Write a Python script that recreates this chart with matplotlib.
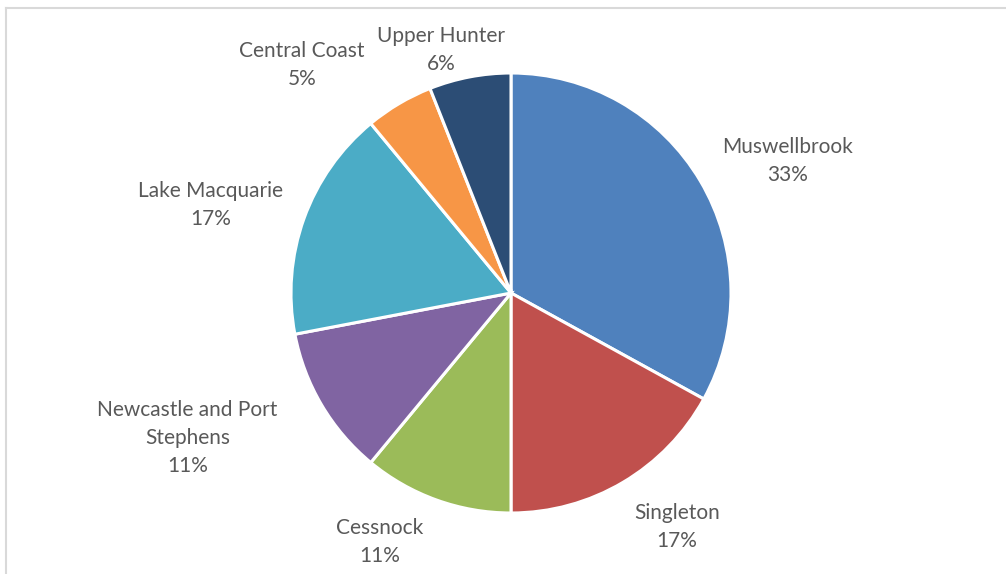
import matplotlib.pyplot as plt
from matplotlib.lines import Line2D

regions = ['Muswellbrook', 'Singleton', 'Cessnock', 'Newcastle and Port\nStephens',
           'Lake Macquarie', 'Central Coast', 'Upper Hunter']
shares = [33, 17, 11, 11, 17, 5, 6]
colors = ['#4F81BD', '#C0504D', '#9BBB59', '#8064A2', '#4BACC6', '#F79646', '#2C4D75']

# label centres, in pie radius units (Excel "best fit" placement)
label_xy = [(1.255, 0.60), (0.755, -1.064), (-0.595, -1.134), (-1.47, -0.659),
            (-1.365, 0.40), (-0.95, 1.036), (-0.318, 1.104)]

W, H = 1006, 574
fig = plt.figure(figsize=(W / 100, H / 100), dpi=100)
cx, cy, r = 511, 293, 220
ax = fig.add_axes([(cx - r) / W, (H - cy - r) / H, 2 * r / W, 2 * r / H])

ax.pie(shares, colors=colors, startangle=90, counterclock=False, radius=1,
       wedgeprops=dict(edgecolor='white', linewidth=2.2))
ax.set_xlim(-1, 1)
ax.set_ylim(-1, 1)
ax.set_aspect('equal')
ax.axis('off')

for name, val, (x, y) in zip(regions, shares, label_xy):
    ax.text(x, y, f'{name}\n{val}%', ha='center', va='center', fontsize=15,
            color='#595959', family=['Lato', 'DejaVu Sans'], linespacing=1.5,
            clip_on=False)

# chart frame (only top and left edges visible in the crop)
fig.add_artist(Line2D([6 / W, 1], [1 - 8 / H, 1 - 8 / H], color='#D9D9D9', lw=1.5))
fig.add_artist(Line2D([6 / W, 6 / W], [0, 1 - 8 / H], color='#D9D9D9', lw=1.5))

fig.savefig('out.png', dpi=100, facecolor='white')
